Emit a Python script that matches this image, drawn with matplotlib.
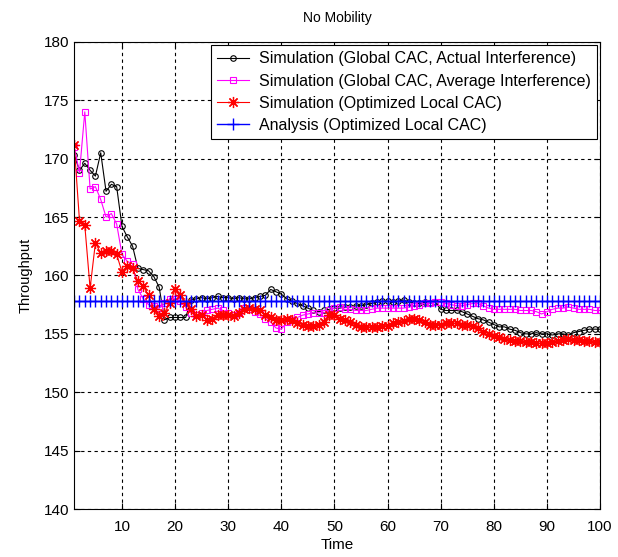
import matplotlib
matplotlib.use("Agg")
import matplotlib.pyplot as plt
import numpy as np

plt.rcParams['font.family'] = ['Liberation Sans', 'DejaVu Sans']

t = np.arange(1, 101)

# Simulation (Global CAC, Actual Interference)
glob_actual = [170.3, 169.0, 169.6, 169.0, 168.5, 170.5, 167.2, 167.8, 167.6, 164.2,
               163.3, 162.5, 160.6, 160.5, 160.4, 159.9, 159.0, 156.2, 156.4, 156.4,
               156.4, 156.4, 157.9, 158.0, 158.1, 158.0, 158.1, 158.2, 158.1, 158.1,
               158.0, 158.1, 158.0, 158.0, 158.1, 158.2, 158.3, 158.8, 158.6, 158.4,
               158.0, 157.8, 157.6, 157.4, 157.2, 157.0, 156.9, 157.0, 157.1, 157.2,
               157.2, 157.3, 157.3, 157.4, 157.4, 157.5, 157.6, 157.7, 157.8, 157.8,
               157.7, 157.8, 157.9, 157.7, 157.6, 157.6, 157.7, 157.6, 157.7, 157.1,
               157.0, 157.0, 157.0, 156.9, 156.7, 156.5, 156.3, 156.2, 156.0, 155.8,
               155.6, 155.6, 155.4, 155.3, 155.1, 155.0, 155.0, 155.1, 155.0, 155.0,
               154.9, 155.0, 155.0, 154.9, 155.1, 155.2, 155.3, 155.4, 155.4, 155.4]

# Simulation (Global CAC, Average Interference)
glob_avg = [171.0, 168.8, 174.0, 167.4, 167.6, 166.5, 165.0, 165.3, 164.4, 161.8,
            161.2, 161.0, 158.8, 158.0, 157.5, 157.4, 157.2, 157.6, 158.0, 158.0,
            157.8, 157.3, 156.8, 156.6, 156.8, 157.0, 157.1, 157.2, 157.0, 156.8,
            156.6, 156.8, 157.2, 157.1, 156.9, 156.7, 156.3, 156.0, 155.5, 155.4,
            156.0, 156.2, 156.4, 156.6, 156.7, 156.8, 156.8, 156.8, 157.0, 157.2,
            157.3, 157.1, 157.1, 157.0, 157.0, 157.0, 157.1, 157.2, 157.2, 157.2,
            157.2, 157.2, 157.2, 157.3, 157.4, 157.5, 157.6, 157.6, 157.7, 157.7,
            157.6, 157.5, 157.4, 157.4, 157.5, 157.6, 157.6, 157.4, 157.2, 157.1,
            157.1, 157.1, 157.1, 157.1, 157.0, 157.0, 157.0, 156.9, 156.7, 156.9,
            157.1, 157.2, 157.2, 157.3, 157.2, 157.1, 157.1, 157.1, 157.0, 157.0]

# Simulation (Optimized Local CAC)
local_sim = [171.2, 164.7, 164.3, 158.9, 162.8, 161.9, 162.1, 162.1, 161.8, 160.3,
             160.8, 160.6, 159.5, 159.1, 158.3, 157.1, 156.5, 156.8, 157.6, 158.8,
             158.3, 157.6, 157.1, 156.5, 156.6, 156.2, 156.3, 156.6, 156.6, 156.6,
             156.5, 156.8, 157.1, 157.2, 157.1, 157.0, 156.6, 156.4, 156.2, 156.2,
             156.3, 156.2, 155.9, 155.8, 155.7, 155.7, 155.8, 156.0, 156.6, 156.6,
             156.3, 156.2, 156.0, 155.8, 155.6, 155.6, 155.6, 155.6, 155.7, 155.7,
             155.9, 156.0, 156.1, 156.3, 156.3, 156.2, 156.0, 155.8, 155.8, 155.8,
             155.9, 155.9, 155.9, 155.8, 155.8, 155.7, 155.5, 155.2, 155.0, 154.8,
             154.7, 154.6, 154.5, 154.4, 154.4, 154.3, 154.3, 154.2, 154.2, 154.2,
             154.3, 154.4, 154.5, 154.6, 154.5, 154.5, 154.4, 154.4, 154.3, 154.3]

# Analysis (Optimized Local CAC)
local_analysis = [157.8] * 100

fig = plt.figure(figsize=(6.18, 5.57), dpi=100)
ax = fig.add_axes([0.12, 0.086, 0.851, 0.839])

ax.plot(t, glob_actual, color='black', lw=0.8, marker='o', ms=4, mfc='none', mew=0.8,
        label='Simulation (Global CAC, Actual Interference)')
ax.plot(t, glob_avg, color='#ff00ff', lw=0.8, marker='s', ms=4.5, mfc='none', mew=0.8,
        label='Simulation (Global CAC, Average Interference)')
ax.plot(t, local_sim, color='red', lw=0.8, marker=(8, 2, 0), ms=8, mew=0.9,
        label='Simulation (Optimized Local CAC)')
ax.plot(t, local_analysis, color='#0000ff', lw=1.0, marker='+', ms=9, mew=1.0,
        label='Analysis (Optimized Local CAC)')

ax.set_xlim(1, 100)
ax.set_ylim(140, 180)
ax.set_xticks(np.arange(10, 101, 10))
ax.set_yticks(np.arange(140, 181, 5))
ax.tick_params(direction='in', top=True, right=True, labelsize=11, length=4)
ax.tick_params(axis='x', pad=8)
ax.grid(True, color='black', linestyle=(0, (3, 3)), linewidth=0.8)

ax.set_title('No Mobility', fontsize=10, pad=14)
ax.set_xlabel('Time', fontsize=11, labelpad=3)
ax.set_ylabel('Throughput', fontsize=10.5, labelpad=8)

leg = ax.legend(loc='upper right', fontsize=11.5, fancybox=False, framealpha=1,
                edgecolor='black', handlelength=2.0, borderaxespad=0.2,
                labelspacing=0.45, borderpad=0.4, handletextpad=0.6)
leg.get_frame().set_linewidth(0.8)

fig.savefig('out.png', dpi=100)
